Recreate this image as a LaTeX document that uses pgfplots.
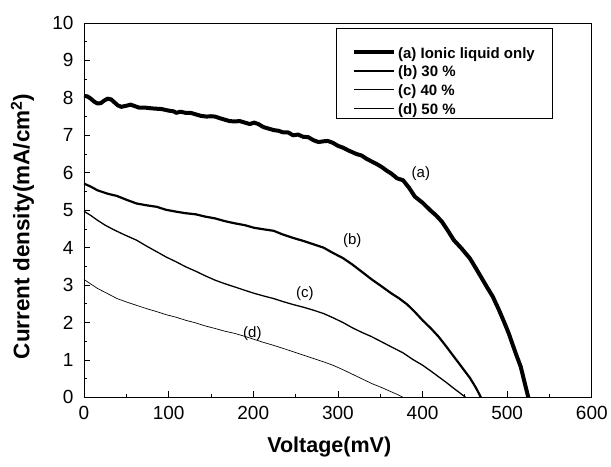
\documentclass[border=0pt]{standalone}
\usepackage{pgfplots}
\pgfplotsset{compat=1.18}
\usepackage{fontspec}
\setmainfont{Liberation Sans}
\begin{document}
\begin{tikzpicture}[x=1pt,y=1pt]
\begin{axis}[
  name=ax,
  scale only axis,
  width=508pt, height=374.5pt,
  xmin=0, xmax=600, ymin=0, ymax=10,
  xtick={0,100,...,600}, ytick={0,1,...,10},
  minor x tick num=1, minor y tick num=1,
  tick align=inside,
  xtick pos=left, ytick pos=left,
  major tick length=6pt, minor tick length=3.5pt,
  tick style={black, line width=0.8pt},
  axis line style={line width=0.9pt},
  /pgf/number format/assume math mode=true,
  ticklabel style={font=\fontsize{19}{20}\selectfont},
  yticklabel style={xshift=-7pt},
  xticklabel style={yshift=-5pt},
  xlabel={\bfseries Voltage(mV)},
  ylabel={\bfseries Current density(mA/cm$^{\mathbf{2}}$)},
  xlabel style={font=\fontsize{21.5}{24}\selectfont, at={(rel axis cs:0.483,0)}, anchor=center, yshift=-50pt},
  ylabel style={font=\fontsize{22.5}{24}\selectfont, at={(rel axis cs:0,0.457)}, anchor=center, yshift=61.5pt},
  legend style={at={(rel axis cs:0.496,0.9866)}, anchor=north west, draw=black, line width=0.6pt,
    font=\bfseries\fontsize{15}{17}\selectfont, inner xsep=16pt, inner ysep=1pt,
    row sep=1.2pt,
    nodes={inner ysep=2pt, text height=12.5pt, text depth=1pt}},
  legend cell align=left,
  legend image code/.code={\draw[#1] (0pt,0pt) -- (40pt,0pt);},
  every axis plot/.append style={black, line join=round},
]
\addlegendimage{empty legend}
\addlegendentry[text height=8pt]{}
\addplot[line width=4pt] coordinates {
(0,8.05)(4,8.04)(8,7.98)(12,7.9)(16,7.85)(20,7.86)(24,7.93)(28,7.98)(32,7.96)(36,7.88)(40,7.8)(44,7.76)(48,7.78)(52,7.8)(55,7.82)(60,7.78)(65,7.74)(72,7.74)(80,7.72)(86,7.71)(92,7.7)(100,7.66)(106,7.64)(109,7.6)(114,7.63)(120,7.6)(126,7.6)(132,7.56)(138,7.52)(145,7.5)(150,7.51)(155,7.5)(160,7.46)(166,7.42)(172,7.38)(178,7.37)(184,7.38)(190,7.34)(196,7.3)(201,7.34)(206,7.3)(212,7.22)(218,7.18)(224,7.14)(230,7.12)(235,7.08)(241,7.08)(247,7.0)(253,7.02)(259,6.96)(265,6.95)(271,6.87)(277,6.82)(283,6.84)(288,6.85)(294,6.8)(300,6.72)(306,6.67)(312,6.6)(317,6.55)(322,6.5)(328,6.46)(334,6.37)(340,6.3)(346,6.23)(352,6.15)(358,6.05)(363,5.98)(370,5.85)(377,5.80)(384,5.6)(391,5.36)(400,5.2)(409,5.0)(416,4.86)(423,4.69)(430,4.45)(437,4.2)(446,3.98)(456,3.71)(463,3.45)(469,3.22)(476,2.95)(483,2.69)(490,2.35)(497,1.98)(502,1.7)(506,1.44)(511,1.12)(516,0.82)(520,0.45)(525,0)};
\addlegendentry{(a) Ionic liquid only}
\addplot[line width=2.2pt] coordinates {
(0,5.71)(8,5.63)(16,5.53)(28,5.44)(39,5.38)(50,5.28)(62,5.18)(74,5.13)(86,5.09)(97,5.01)(109,4.96)(120,4.92)(132,4.89)(143,4.83)(155,4.78)(166,4.71)(178,4.65)(190,4.6)(201,4.53)(212,4.49)(224,4.45)(235,4.35)(247,4.26)(259,4.18)(271,4.09)(283,4.0)(294,3.86)(306,3.72)(317,3.55)(328,3.36)(340,3.15)(352,2.96)(363,2.78)(372,2.65)(382,2.48)(391,2.28)(400,2.06)(410,1.84)(419,1.62)(428,1.36)(437,1.09)(446,0.82)(456,0.52)(463,0.26)(469,0)};
\addlegendentry{(b) 30 \%}
\addplot[line width=1.3pt] coordinates {
(0,4.97)(8,4.86)(16,4.73)(25,4.6)(35,4.48)(48,4.34)(62,4.2)(74,4.04)(86,3.89)(97,3.75)(109,3.62)(120,3.49)(132,3.37)(143,3.25)(155,3.13)(166,3.04)(178,2.95)(190,2.86)(201,2.78)(212,2.71)(224,2.64)(235,2.56)(247,2.48)(259,2.41)(271,2.33)(283,2.24)(294,2.13)(306,2.0)(317,1.86)(328,1.74)(340,1.62)(352,1.48)(363,1.35)(377,1.19)(388,1.02)(400,0.86)(410,0.7)(419,0.55)(428,0.4)(437,0.24)(444,0.12)(451,0)};
\addlegendentry{(c) 40 \%}
\addplot[line width=0.7pt] coordinates {
(0,3.15)(8,3.03)(16,2.91)(28,2.77)(39,2.64)(50,2.55)(62,2.46)(74,2.37)(86,2.29)(97,2.21)(109,2.14)(120,2.06)(132,1.99)(143,1.91)(155,1.84)(166,1.77)(178,1.71)(190,1.63)(201,1.55)(212,1.47)(224,1.39)(235,1.31)(247,1.22)(259,1.13)(271,1.04)(283,0.95)(294,0.86)(306,0.74)(317,0.62)(328,0.5)(340,0.37)(352,0.26)(363,0.15)(370,0.08)(377,0)};
\addlegendentry{(d) 50 \%}
\node[font=\fontsize{15}{17}\selectfont] at (axis cs:398,5.98) {(a)};
\node[font=\fontsize{15}{17}\selectfont] at (axis cs:317,4.2) {(b)};
\node[font=\fontsize{15}{17}\selectfont] at (axis cs:261,2.78) {(c)};
\node[font=\fontsize{15}{17}\selectfont] at (axis cs:199,1.71) {(d)};
\end{axis}
\path (ax.south west) ++(-84pt,-69pt) (ax.north east) ++(19pt,23pt);
\end{tikzpicture}
\end{document}
